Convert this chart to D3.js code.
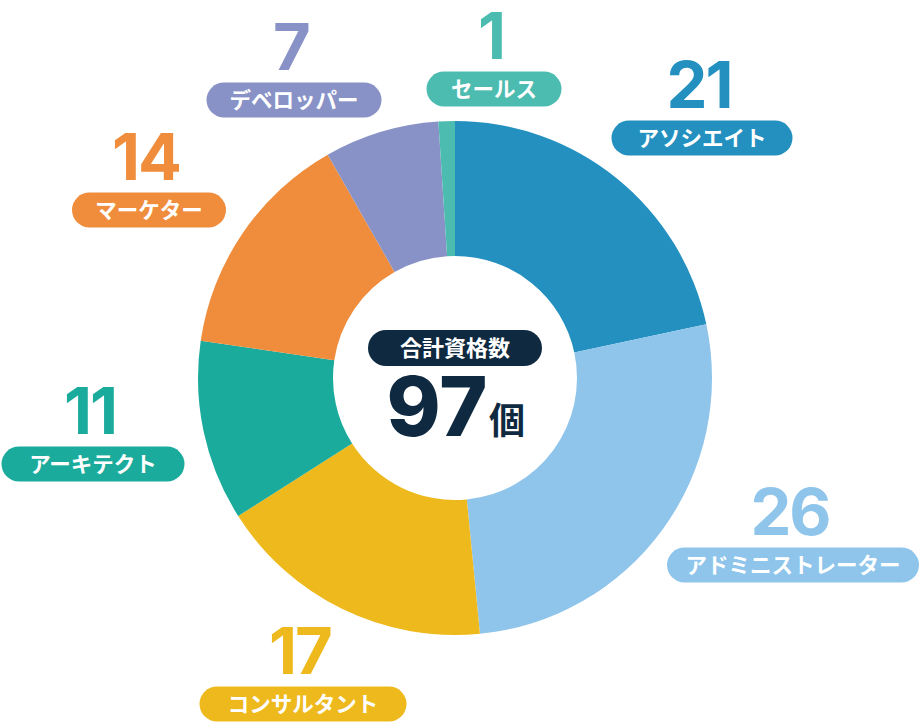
<!DOCTYPE html>
<html>
<head>
<meta charset="utf-8">
<script src="https://cdn.jsdelivr.net/npm/d3@7"></script>
<style>
  html, body { margin: 0; padding: 0; background: #ffffff; }
  svg { display: block; }
</style>
</head>
<body>
<svg id="chart" width="920" height="724"></svg>
<script>
// ---- data ----
const categories = ["アソシエイト", "アドミニストレーター", "コンサルタント", "アーキテクト", "マーケター", "デベロッパー", "セールス"];
const counts = [21, 26, 17, 11, 14, 7, 1];
const colors = ["#2390c0", "#8fc5eb", "#eeb91c", "#1aab9c", "#f08d3c", "#8892c6", "#4cbbb0"];
const totalLabel = "合計資格数";
const unitLabel = "個";

// label placement (pill centre and width) for each category
const labelPos = [
  { x: 702, y: 138, w: 181 },
  { x: 793, y: 565, w: 252 },
  { x: 303, y: 704, w: 207 },
  { x: 93,  y: 464, w: 183 },
  { x: 149, y: 210, w: 154 },
  { x: 294, y: 100, w: 175 },
  { x: 494, y: 89,  w: 135 }
];

const cx = 455, cy = 378, outerR = 257, innerR = 122;
const data = categories.map((c, i) => ({ name: c, value: counts[i], color: colors[i] }));

const svg = d3.select("#chart");
const pie = d3.pie().value(d => d.value).sort(null).startAngle(0).endAngle(2 * Math.PI);
const arc = d3.arc().innerRadius(innerR).outerRadius(outerR);

const g = svg.append("g").attr("transform", `translate(${cx},${cy})`);
g.selectAll("path.slice")
  .data(pie(data))
  .join("path")
  .attr("class", "slice")
  .attr("d", arc)
  .attr("fill", d => d.data.color);

// labels
const numFont = "Inter, 'Liberation Sans', Arial, sans-serif";
const jpFont = "'Noto Sans CJK JP', 'Noto Sans', sans-serif";
const pillH = 35;

const lab = svg.selectAll("g.lab").data(data).join("g").attr("class", "lab")
  .attr("transform", (d, i) => `translate(${labelPos[i].x},${labelPos[i].y})`);

lab.append("rect")
  .attr("x", (d, i) => -labelPos[i].w / 2)
  .attr("y", -pillH / 2)
  .attr("width", (d, i) => labelPos[i].w)
  .attr("height", pillH)
  .attr("rx", pillH / 2)
  .attr("fill", d => d.color);

lab.append("text")
  .attr("x", 0)
  .attr("y", 0)
  .attr("dy", "0.36em")
  .attr("text-anchor", "middle")
  .attr("font-family", jpFont)
  .attr("font-weight", 700)
  .attr("font-size", 21.5)
  .attr("fill", "#ffffff")
  .text(d => d.name);

lab.append("text")
  .attr("x", -3)
  .attr("y", -pillH / 2 - 13)
  .attr("text-anchor", "middle")
  .attr("font-family", numFont)
  .attr("font-weight", 700)
  .attr("font-size", 65)
  .attr("letter-spacing", -2)
  .attr("fill", d => d.color)
  .text(d => d.value);

// centre
const total = d3.sum(counts);
const navy = "#0e2940";
const c = svg.append("g").attr("transform", `translate(${cx},${cy})`);
c.append("rect")
  .attr("x", -87).attr("y", -48).attr("width", 174).attr("height", 36).attr("rx", 18)
  .attr("fill", navy);
c.append("text")
  .attr("x", 0).attr("y", -30).attr("dy", "0.36em")
  .attr("text-anchor", "middle")
  .attr("font-family", jpFont).attr("font-weight", 700).attr("font-size", 22)
  .attr("fill", "#ffffff")
  .text(totalLabel);
c.append("text")
  .attr("x", -18).attr("y", 58)
  .attr("text-anchor", "middle")
  .attr("font-family", numFont).attr("font-weight", 800).attr("font-size", 82)
  .attr("fill", navy)
  .text(total);
c.append("text")
  .attr("x", 52).attr("y", 56)
  .attr("text-anchor", "middle")
  .attr("font-family", jpFont).attr("font-weight", 700).attr("font-size", 36)
  .attr("fill", navy)
  .text(unitLabel);
</script>
</body>
</html>
